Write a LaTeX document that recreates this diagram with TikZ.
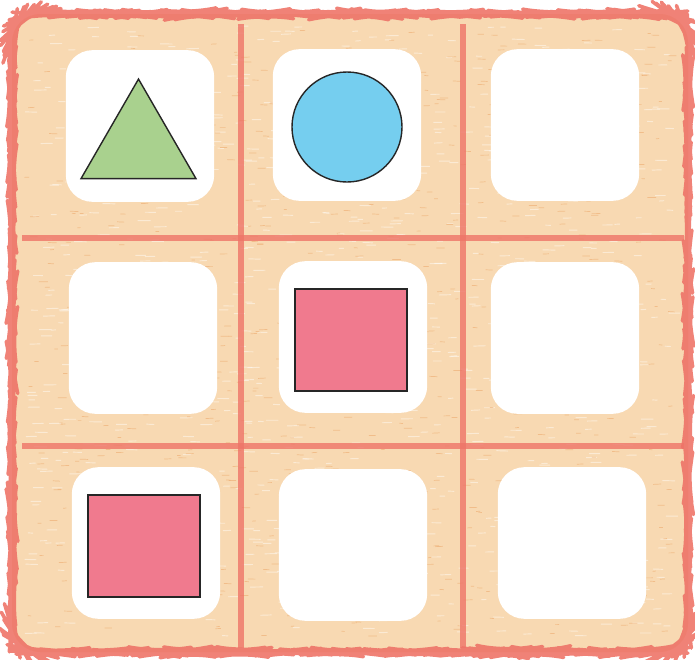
\documentclass[tikz,border=0pt]{standalone}
\usetikzlibrary{shapes.geometric, decorations.pathmorphing}

\definecolor{paper}{HTML}{F8D9B2}
\definecolor{fleck}{HTML}{E8954E}
\definecolor{gridred}{HTML}{EE7468}
\definecolor{trigreen}{HTML}{A9D18E}
\definecolor{ballblue}{HTML}{75CEEF}
\definecolor{boxpink}{HTML}{F07A8E}

\begin{document}
\begin{tikzpicture}[
  x=0.03cm, y=-0.03cm,
  cell/.style={rectangle, rounded corners=0.8cm, fill=white, draw=none,
               minimum width=4.45cm, minimum height=4.55cm, inner sep=0pt},
  piece/.style={draw=black!85, line width=1.2pt, inner sep=0pt},
  tri/.style={piece, regular polygon, regular polygon sides=3,
              minimum size=3.98cm, fill=trigreen},
  ball/.style={piece, circle, minimum size=3.3cm, fill=ballblue},
  block/.style={piece, rectangle, minimum width=3.36cm, minimum height=3.06cm,
                fill=boxpink},
  gridline/.style={gridred, line width=4.5pt, opacity=0.8},
  rim/.style={gridred, line width=3pt, line join=round, opacity=0.9, decorate,
              decoration={random steps, segment length=3pt, amplitude=0.35pt}}
]
\useasboundingbox (0,0) rectangle (695,659);

% board and its texture
\fill[paper, rounded corners=0.85cm] (12,14) rectangle (688,652);
\pgfmathsetseed{11}
\foreach \k in {1,...,900}{
  \pgfmathsetmacro\px{24+645*rnd}
  \pgfmathsetmacro\py{26+610*rnd}
  \draw[white, opacity=0.45, line width=0.8pt] (\px,\py) -- ++(5+8*rnd,0.8*rnd-0.4);
}
\foreach \k in {1,...,700}{
  \pgfmathsetmacro\px{24+645*rnd}
  \pgfmathsetmacro\py{26+610*rnd}
  \draw[fleck, opacity=0.4, line width=0.6pt] (\px,\py) -- ++(3+6*rnd,0.8*rnd-0.4);
}

% grid lines
\coordinate (v1t) at (241,24);  \coordinate (v1b) at (241,648);
\coordinate (v2t) at (463,24);  \coordinate (v2b) at (463,648);
\coordinate (h1l) at (22,238);  \coordinate (h1r) at (684,238);
\coordinate (h2l) at (22,446);  \coordinate (h2r) at (684,446);
\draw[gridline] (v1t) -- (v1b);
\draw[gridline] (v2t) -- (v2b);
\draw[gridline] (h1l) -- (h1r);
\draw[gridline] (h2l) -- (h2r);

% rim
\draw[rim, rounded corners=0.85cm] (12,14) rectangle (688,652);

% cells
\node[cell] (c11) at (140,126) {};
\node[cell] (c12) at (347,125) {};
\node[cell] (c13) at (565,125) {};
\node[cell] (c21) at (143,338) {};
\node[cell] (c22) at (353,337) {};
\node[cell] (c23) at (565,338) {};
\node[cell] (c31) at (146,543) {};
\node[cell] (c32) at (353,545) {};
\node[cell] (c33) at (572,543) {};

% pieces
\node[tri]   (triangle) at (138.5,145.4) {};
\node[ball]  (circle)   at (347,127) {};
\node[block] (sqmid)    at (351,340) {};
\node[block] (sqlow)    at (144,546) {};

\end{tikzpicture}
\end{document}
